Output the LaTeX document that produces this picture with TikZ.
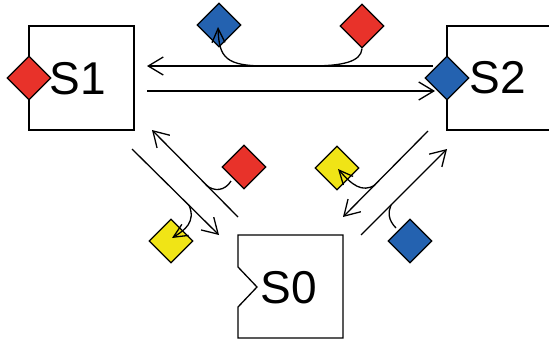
\documentclass[tikz,border=0pt]{standalone}
\usepackage{fontspec}
\setmainfont{Liberation Sans}
\usetikzlibrary{shapes.geometric,arrows.meta}
\definecolor{dred}{HTML}{E8322A}
\definecolor{dblue}{HTML}{2462B0}
\definecolor{dyellow}{HTML}{F0E416}
\tikzset{
  conn/.style={line width=1.3pt},
  arr/.style={conn,-{Straight Barb[length=15pt,width=18pt,line width=1.3pt]}},
  sarr/.style={conn,-{Straight Barb[length=14pt,width=13pt,line width=1.3pt]}},
  gem/.style={diamond,draw,line width=1.3pt,inner sep=0pt,minimum width=44pt,minimum height=44pt,shape aspect=1},
  lbl/.style={font=\fontsize{46}{46}\selectfont,inner sep=0pt}
}
\begin{document}
\begin{tikzpicture}[x=1pt,y=-1pt]
\useasboundingbox (0,0) rectangle (549,343);
\fill[white] (0,0) rectangle (549,343);
% boxes
\draw[conn] (29,26) rectangle (134,130);
\draw[conn] (558,26) -- (447,26) -- (447,130) -- (558,130);
\draw[conn] (238,235) -- (343,235) -- (343,338) -- (238,338) -- (238,307) -- (257,287) -- (238,267) -- cycle;
\node[lbl] (S1) at (78,79) {S1};
\node[lbl] (S2) at (498,78) {S2};
\node[lbl] (S0) at (289,288) {S0};
% diamonds
\node[gem,fill=dred] (r1) at (29,78) {};
\node[gem,fill=dblue] (b2) at (447,78) {};
\node[gem,fill=dblue] (bt) at (219,25) {};
\node[gem,fill=dred] (rt) at (362,26) {};
\node[gem,fill=dred] (rl) at (244,167) {};
\node[gem,fill=dyellow] (yl) at (171,241) {};
\node[gem,fill=dyellow] (yr) at (337,168) {};
\node[gem,fill=dblue] (bb) at (410,241) {};
% connector end points
\coordinate (t1s) at (433,66); \coordinate (t1e) at (147,66);
\coordinate (t2s) at (147,91); \coordinate (t2e) at (435,91);
\coordinate (l1s) at (132,149); \coordinate (l1e) at (219,235);
\coordinate (l2s) at (238,217); \coordinate (l2e) at (152,130);
\coordinate (rAs) at (428,131); \coordinate (rAe) at (343,217);
\coordinate (rBs) at (361,235); \coordinate (rBe) at (447,149);
% main arrows
\draw[arr] (t1s) -- (t1e);
\draw[arr] (t2s) -- (t2e);
\draw[arr] (l1s) -- (l1e);
\draw[arr] (l2s) -- (l2e);
\draw[arr] (rAs) -- (rAe);
\draw[arr] (rBs) -- (rBe);
% side connectors
\coordinate (rtj) at (310,66);
\draw[conn] (rt.south) .. controls (361,62) and (342,66) .. (rtj);
\coordinate (btj) at (266,66);
\draw[sarr] (btj) .. controls (226,66) and (219,58) .. (218,27);
\coordinate (rlj) at (206,185);
\coordinate (rlt) at (231,181);
\draw[conn] (rlj) .. controls (214,192) and (225,191) .. (rlt);
\coordinate (ylj) at (189,205);
\draw[sarr] (ylj) .. controls (196,222) and (185,230) .. (172,238);
\coordinate (yrj) at (375,185);
\draw[sarr] (yrj) .. controls (362,193) and (352,185) .. (338,169);
\coordinate (bbt) at (396,228);
\coordinate (bbj) at (391,205);
\draw[conn] (bbt) .. controls (388,220) and (388,212) .. (bbj);
\end{tikzpicture}
\end{document}
